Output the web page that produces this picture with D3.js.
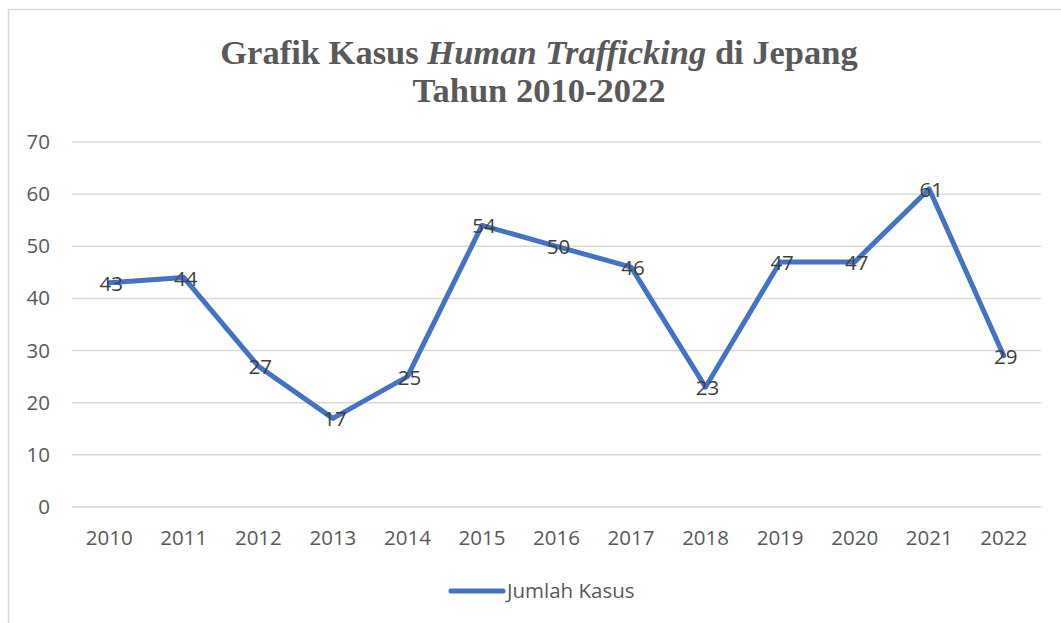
<!DOCTYPE html>
<html><head><meta charset="utf-8">
<script src="https://cdn.jsdelivr.net/npm/d3@7"></script>
<style>html,body{margin:0;padding:0;background:#fff;}svg{display:block;}</style>
</head><body>
<svg id="c" width="1061" height="623"></svg>
<script>
const years = ["2010","2011","2012","2013","2014","2015","2016","2017","2018","2019","2020","2021","2022"];
const cases = [43,44,27,17,25,54,50,46,23,47,47,61,29];
const yTicks = [0,10,20,30,40,50,60,70];
const seriesName = "Jumlah Kasus";

const svg = d3.select("#c");
const W = 1061, H = 623;
const m = {left:72, right:1041, top:142, bottom:507};
const font = "'Open Sans', 'Liberation Sans', sans-serif";
const fs = 20.5;

// chart border
svg.append("path").attr("d", `M8.5,${H} L8.5,9.5 L${W},9.5`).attr("fill","none").attr("stroke","#d9d9d9").attr("stroke-width",1.5);

const x = d3.scaleBand().domain(years).range([m.left, m.right]);
const y = d3.scaleLinear().domain([0,70]).range([m.bottom, m.top]);

// gridlines
svg.append("g").selectAll("line").data(yTicks).join("line")
  .attr("x1", m.left).attr("x2", m.right)
  .attr("y1", d=>y(d)).attr("y2", d=>y(d))
  .attr("stroke","#d9d9d9").attr("stroke-width",1.5);

// y axis
const ya = svg.append("g").attr("transform",`translate(${m.left-10},0)`)
  .call(d3.axisLeft(y).tickValues(yTicks).tickSize(0).tickPadding(12));
ya.select(".domain").remove();
ya.selectAll("text").attr("font-family",font).attr("font-size",fs).attr("fill","#595959");

// x axis
const xa = svg.append("g").attr("transform",`translate(0,${m.bottom})`)
  .call(d3.axisBottom(x).tickSize(0).tickPadding(23));
xa.select(".domain").remove();
xa.selectAll("text").attr("font-family",font).attr("font-size",fs).attr("fill","#595959");

// line
const line = d3.line().x((d,i)=>x(years[i])+x.bandwidth()/2).y(d=>y(d));
svg.append("path").datum(cases).attr("d",line)
  .attr("fill","none").attr("stroke","#4472C4").attr("stroke-width",5)
  .attr("stroke-linejoin","round").attr("stroke-linecap","round");

// data labels
svg.append("g").selectAll("text").data(cases).join("text")
  .attr("x",(d,i)=>x(years[i])+x.bandwidth()/2+2)
  .attr("y",d=>y(d)+8)
  .attr("text-anchor","middle")
  .attr("font-family",font).attr("font-size",fs).attr("fill","#404040")
  .text(d=>d);

// title
const t = svg.append("text").attr("text-anchor","middle")
  .attr("font-family","'Liberation Serif','Times New Roman',serif")
  .attr("font-weight","bold").attr("font-size",34.5).attr("fill","#595959");
t.append("tspan").attr("x",539).attr("y",64).text("Grafik Kasus ");
t.append("tspan").attr("font-style","italic").text("Human Trafficking");
t.append("tspan").text(" di Jepang");
t.append("tspan").attr("x",539).attr("y",102).text("Tahun 2010-2022");

// legend
svg.append("line").attr("x1",451).attr("x2",503).attr("y1",591).attr("y2",591)
  .attr("stroke","#4472C4").attr("stroke-width",5).attr("stroke-linecap","round");
svg.append("text").attr("x",507).attr("y",598).attr("font-family",font)
  .attr("font-size",fs).attr("fill","#595959").text(seriesName);
</script>
</body></html>
